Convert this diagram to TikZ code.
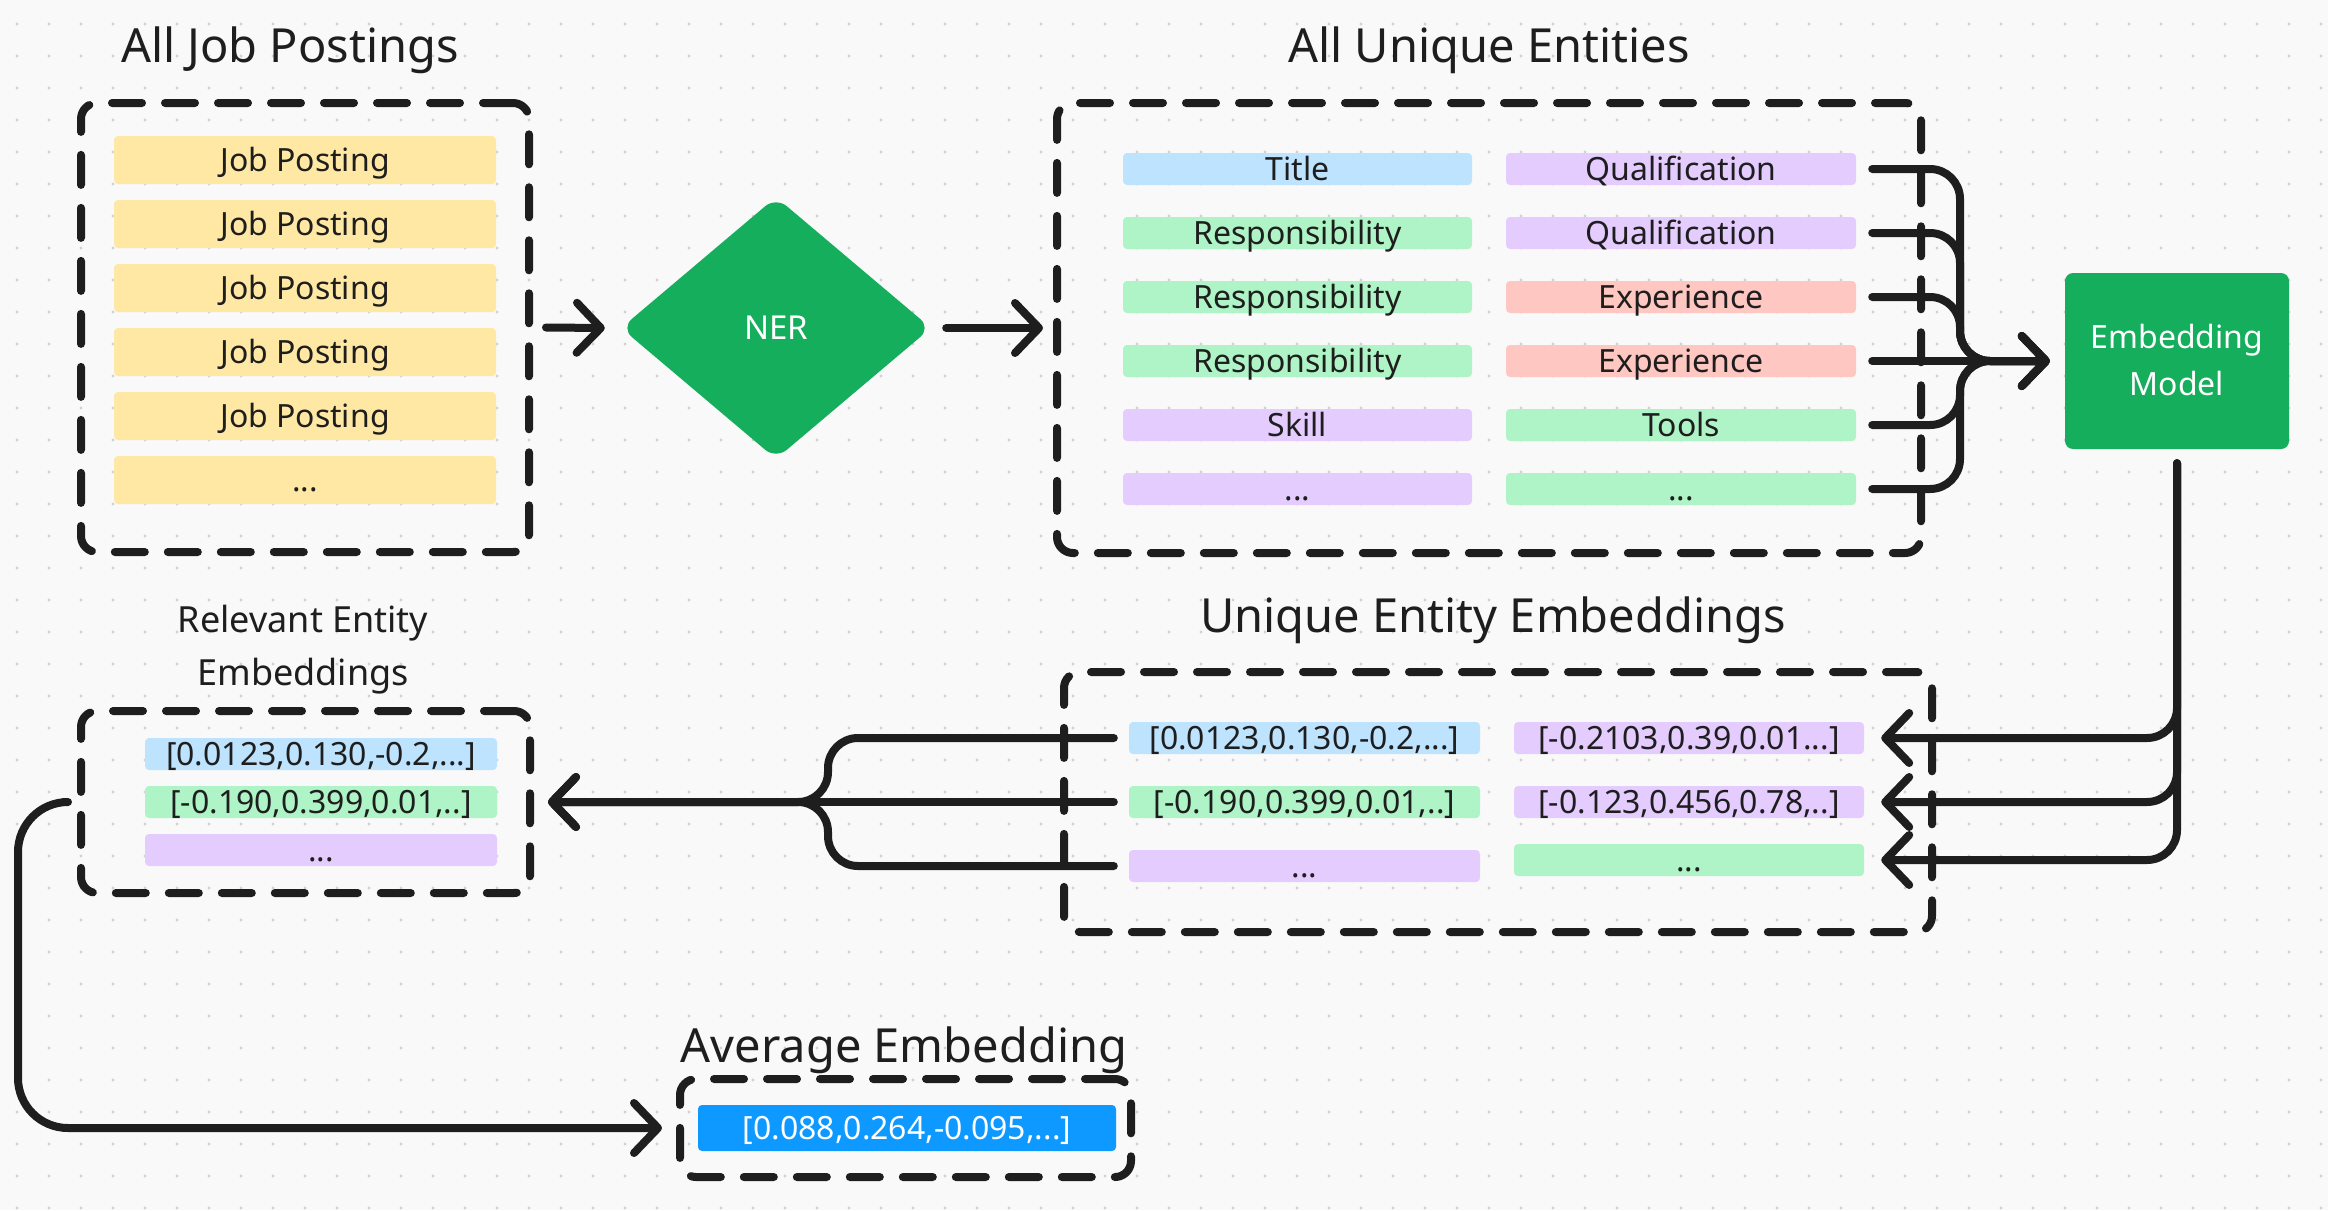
\documentclass[tikz,border=0pt]{standalone}
\usepackage{fontspec}
\setmainfont{Noto Sans}
\usetikzlibrary{arrows.meta,shapes.geometric,calc}
\definecolor{ink}{HTML}{1E1E1E}
\definecolor{bgc}{HTML}{F9F9F9}
\definecolor{dotc}{HTML}{D2D2D2}
\definecolor{lyel}{HTML}{FFE8A3}
\definecolor{lblue}{HTML}{BDE3FF}
\definecolor{lgreen}{HTML}{AFF4C6}
\definecolor{lpurp}{HTML}{E4CCFF}
\definecolor{lred}{HTML}{FFC7C2}
\definecolor{dgreen}{HTML}{14AE5C}
\definecolor{dblue}{HTML}{0D99FF}
\tikzset{
  frame/.style={draw=ink, line width=8pt, dash pattern=on 30pt off 23pt, line cap=round, rounded corners=16pt, inner sep=0pt},
  bar/.style={fill=#1, rounded corners=4pt, inner sep=0pt, text height=23pt, text depth=0pt, font=\fontsize{32}{38}\selectfont, text=ink},
  title/.style={font=\fontsize{47}{56}\selectfont, text=ink, anchor=base, inner sep=0pt},
  conn/.style={draw=ink, line width=8pt, line cap=round, line join=round},
  arr/.style={conn, -{Straight Barb[length=24pt,width=50pt,round]}},
}
\begin{document}
\begin{tikzpicture}[x=1pt,y=-1pt]
\useasboundingbox (0,0) rectangle (2328,1210);
\fill[bgc] (0,0) rectangle (2328,1210);
\foreach \i in {0,...,72} \foreach \j in {0,...,37} \fill[dotc] (17+32*\i, 24+32*\j) circle (1.6pt);

% ---- All Job Postings
\node[title] (tjobs) at (290,62) {All Job Postings};
\node[frame, minimum width=448pt, minimum height=449pt] (jobs) at (305,327.5) {};
\node[bar=lyel, minimum width=382pt, minimum height=48pt] (jp1) at (305,160) {Job Posting};
\node[bar=lyel, minimum width=382pt, minimum height=48pt] (jp2) at (305,224) {Job Posting};
\node[bar=lyel, minimum width=382pt, minimum height=48pt] (jp3) at (305,288) {Job Posting};
\node[bar=lyel, minimum width=382pt, minimum height=48pt] (jp4) at (305,352) {Job Posting};
\node[bar=lyel, minimum width=382pt, minimum height=48pt] (jp5) at (305,416) {Job Posting};
\node[bar=lyel, minimum width=382pt, minimum height=48pt] (jp6) at (305,480) {...};

% ---- NER
\node[diamond, fill=dgreen, minimum width=310pt, minimum height=262pt, inner sep=0pt, rounded corners=14pt, text=white, font=\fontsize{33}{40}\selectfont] (ner) at (776,328) {NER};

% ---- All Unique Entities
\node[title] (tents) at (1489,62) {All Unique Entities};
\node[frame, minimum width=864pt, minimum height=450pt] (ents) at (1489,328) {};
\node[bar=lblue, minimum width=349pt, minimum height=32pt] (p1) at (1297.5,169) {Title};
\node[bar=lgreen, minimum width=349pt, minimum height=32pt] (p2) at (1297.5,233) {Responsibility};
\node[bar=lgreen, minimum width=349pt, minimum height=32pt] (p3) at (1297.5,297) {Responsibility};
\node[bar=lgreen, minimum width=349pt, minimum height=32pt] (p4) at (1297.5,361) {Responsibility};
\node[bar=lpurp, minimum width=349pt, minimum height=32pt] (p5) at (1297.5,425) {Skill};
\node[bar=lpurp, minimum width=349pt, minimum height=32pt] (p6) at (1297.5,489) {...};
\node[bar=lpurp, minimum width=350pt, minimum height=32pt] (q1) at (1681,169) {Qualification};
\node[bar=lpurp, minimum width=350pt, minimum height=32pt] (q2) at (1681,233) {Qualification};
\node[bar=lred, minimum width=350pt, minimum height=32pt] (q3) at (1681,297) {Experience};
\node[bar=lred, minimum width=350pt, minimum height=32pt] (q4) at (1681,361) {Experience};
\node[bar=lgreen, minimum width=350pt, minimum height=32pt] (q5) at (1681,425) {Tools};
\node[bar=lgreen, minimum width=350pt, minimum height=32pt] (q6) at (1681,489) {...};

% ---- Embedding Model
\node[fill=dgreen, rounded corners=8pt, minimum width=224pt, minimum height=176pt, inner sep=0pt] (em) at (2177,361) {};
\node[font=\fontsize{32}{47}\selectfont, text=white, align=center, anchor=base, inner sep=0pt] (emt) at (2177,395) {Embedding\\Model};

% ---- Unique Entity Embeddings
\node[title] (tuemb) at (1493,632) {Unique Entity Embeddings};
\node[frame, minimum width=868pt, minimum height=260pt] (uemb) at (1498,802) {};
\node[bar=lblue, minimum width=351pt, minimum height=32pt] (u1) at (1304.5,738) {[0.0123,0.130,-0.2,...]};
\node[bar=lgreen, minimum width=351pt, minimum height=32pt] (u2) at (1304.5,802) {[-0.190,0.399,0.01,..]};
\node[bar=lpurp, minimum width=351pt, minimum height=32pt] (u3) at (1304.5,866) {...};
\node[bar=lpurp, minimum width=350pt, minimum height=32pt] (v1) at (1689,738) {[-0.2103,0.39,0.01...]};
\node[bar=lpurp, minimum width=350pt, minimum height=32pt] (v2) at (1689,802) {[-0.123,0.456,0.78,..]};
\node[bar=lgreen, minimum width=350pt, minimum height=32pt] (v3) at (1689,860) {...};

% ---- Relevant Entity Embeddings
\node[title, font=\fontsize{36}{53}\selectfont, align=center] (tremb) at (303,685) {Relevant Entity\\Embeddings};
\node[frame, minimum width=449pt, minimum height=182pt] (remb) at (305.5,802) {};
\node[bar=lblue, minimum width=352pt, minimum height=32pt] (r1) at (321,754) {[0.0123,0.130,-0.2,...]};
\node[bar=lgreen, minimum width=352pt, minimum height=32pt] (r2) at (321,802) {[-0.190,0.399,0.01,..]};
\node[bar=lpurp, minimum width=352pt, minimum height=32pt] (r3) at (321,850) {...};

% ---- Average Embedding
\node[title] (tavg) at (904,1062) {Average Embedding};
\node[frame, minimum width=451pt, minimum height=98pt] (avg) at (905.5,1128) {};
\node[bar=dblue, text=white, minimum width=418pt, minimum height=46pt] (avgv) at (907,1128) {[0.088,0.264,-0.095,...]};

% ---- connectors
\draw[arr] ([xshift=13pt]jobs.east) -- ([xshift=-16pt]ner.west);
\draw[arr] ([xshift=15pt]ner.east) -- ([xshift=-10pt]ents.west);

\coordinate (emtip) at ([xshift=-15pt]em.west);
\coordinate (ebus) at (1960,361);
\foreach \k in {1,2,3,5,6} \draw[arr, rounded corners=30pt] ([xshift=16pt]q\k.east) -| (ebus) -- (emtip);
\draw[arr] ([xshift=16pt]q4.east) -- (emtip);

\coordinate (emb) at ([yshift=-14pt]em.south);
\foreach \k in {1,2,3} \draw[arr, rounded corners=30pt] (emb) |- ([xshift=17pt]v\k.east);

\coordinate (rtip) at ([xshift=14pt]remb.east);
\coordinate (rbus) at (828,802);
\foreach \k in {1,3} \draw[arr, rounded corners=30pt] ([xshift=-15pt]u\k.west) -| (rbus) -- (rtip);
\draw[arr] ([xshift=-15pt]u2.west) -- (rtip);

\coordinate (lc) at (18,1128);
\draw[arr, rounded corners=50pt] ([xshift=-14pt]remb.west) -| (lc) -- ([xshift=-14pt]avg.west);
\end{tikzpicture}
\end{document}
